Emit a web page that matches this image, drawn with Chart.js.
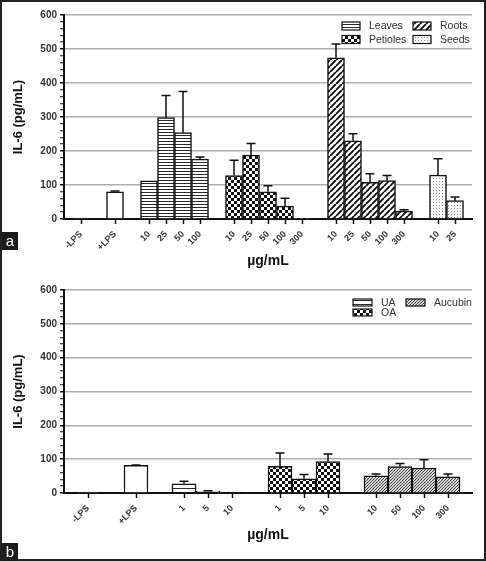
<!DOCTYPE html>
<html>
<head>
<meta charset="utf-8">
<title>IL-6 release</title>
<script src="https://cdn.jsdelivr.net/npm/chart.js@4.4.1/dist/chart.umd.min.js"></script>
<style>
	html, body { margin: 0; padding: 0; background: #fff; }
	#wrap { position: relative; width: 486px; height: 561px; overflow: hidden; }
	.panel { position: absolute; left: 0; width: 486px; }
	#panelA { top: 0; height: 280px; }
	#panelB { top: 280px; height: 281px; }
	.frame { position: absolute; left: 0; top: 0; width: 486px; height: 561px; box-sizing: border-box; border: 2px solid #222; pointer-events: none; }
	.tag { position: absolute; left: 2px; width: 16px; height: 18px; background: #1c1c1c; color: #fff; font: 15px "Liberation Sans", Arial, sans-serif; line-height: 17px; text-align: center; }
</style>
</head>
<body>
<div id="wrap">
	<div class="panel" id="panelA"><canvas id="chartA"></canvas></div>
	<div class="panel" id="panelB"><canvas id="chartB"></canvas></div>
	<div class="frame"></div>
	<div class="tag" style="top:232px">a</div>
	<div class="tag" style="top:543px">b</div>
</div>
<script>
(function() {
	'use strict';

	// ---- data, panel a (IL-6 pg/mL, mean and SD) ----
	var ctrlLabels = ['-LPS', '+LPS'];
	var ctrlA = [3, 80];
	var ctrlSdA = [0, 2];
	var doseLeaves = ['10', '25', '50', '100'];
	var leaves = [112, 298, 254, 176];
	var leavesSd = [0, 65, 121, 6];
	var dosePetioles = ['10', '25', '50', '100', '300'];
	var petioles = [128, 188, 80, 38, 2];
	var petiolesSd = [45, 34, 18, 23, 0];
	var doseRoots = ['10', '25', '50', '100', '300'];
	var roots = [474, 230, 108, 113, 23];
	var rootsSd = [41, 21, 25, 15, 4];
	var doseSeeds = ['10', '25'];
	var seeds = [129, 54];
	var seedsSd = [48, 11];

	// ---- data, panel b ----
	var ctrlB = [3, 82];
	var ctrlSdB = [0, 1];
	var doseUA = ['1', '5', '10'];
	var ua = [27, 6, 3];
	var uaSd = [8, 1, 0];
	var doseOA = ['1', '5', '10'];
	var oa = [79, 42, 93];
	var oaSd = [39, 13, 22];
	var doseAucubin = ['10', '50', '100', '300'];
	var aucubin = [51, 78, 74, 48];
	var aucubinSd = [5, 9, 24, 8];

	var yMajor = [0, 100, 200, 300, 400, 500, 600];

	var FONT = '"Liberation Sans", Arial, sans-serif';
	var INK = '#111';

	/**
	 * Build a repeating fill pattern from a small tile
	 */
	function makePattern(w, h, draw) {
		var tile = document.createElement('canvas');
		tile.width = w;
		tile.height = h;
		var t = tile.getContext('2d');
		t.fillStyle = '#fff';
		t.fillRect(0, 0, w, h);
		draw(t, w, h);
		return t.createPattern(tile, 'repeat');
	}

	function diagonal(color, width) {
		return function(t, w, h) {
			t.strokeStyle = color;
			t.lineWidth = width;
			t.beginPath();
			for (var k = -1; k <= 1; k++) {
				t.moveTo(k * w, h);
				t.lineTo(k * w + w, 0);
			}
			t.stroke();
		};
	}

	var fills = {
		plain: '#fff',
		hlines: makePattern(4, 3, function(t, w) { t.fillStyle = '#2a2a2a'; t.fillRect(0, 0, w, 1); }),
		hlinesWide: makePattern(4, 4, function(t, w) { t.fillStyle = '#2a2a2a'; t.fillRect(0, 0, w, 1); }),
		checker: makePattern(6, 6, function(t) {
			t.fillStyle = '#111';
			t.fillRect(0, 0, 6, 6);
			t.fillStyle = '#fff';
			t.fillRect(0, 0, 3, 3);
			t.fillRect(3, 3, 3, 3);
		}),
		diag: makePattern(6, 6, diagonal('#111', 1.9)),
		dots: makePattern(3, 3, function(t) { t.fillStyle = '#8a8a8a'; t.fillRect(1, 1, 1, 1); }),
		diagDense: makePattern(3, 3, diagonal('#444', 1.1))
	};

	/**
	 * Lay groups side by side with one empty slot between them
	 */
	function buildPanel(groups) {
		var labels = [''];
		groups.forEach(function(g) {
			g.start = labels.length;
			labels = labels.concat(g.labels);
			labels.push('');
		});

		var datasets = groups.map(function(g) {
			var data = labels.map(function() { return null; });
			var sd = data.slice();
			g.values.forEach(function(v, i) {
				data[g.start + i] = v;
				sd[g.start + i] = g.sd[i];
			});
			return {
				label: g.name,
				data: data,
				sd: sd,
				backgroundColor: g.fill,
				borderColor: INK,
				borderWidth: 1.5,
				grouped: false,
				barPercentage: 1,
				categoryPercentage: 1
			};
		});

		return { labels: labels, datasets: datasets };
	}

	// Upward error bars with a cap
	var errorBars = {
		id: 'errorBars',
		afterDatasetsDraw: function(chart) {
			var ctx = chart.ctx;
			var y = chart.scales.y;
			ctx.save();
			ctx.strokeStyle = INK;
			ctx.lineWidth = 1.5;
			chart.data.datasets.forEach(function(ds, di) {
				var meta = chart.getDatasetMeta(di);
				ds.data.forEach(function(v, i) {
					if (v === null || !ds.sd[i]) {
						return;
					}
					var x = meta.data[i].x;
					var y0 = y.getPixelForValue(v);
					var y1 = y.getPixelForValue(v + ds.sd[i]);
					ctx.beginPath();
					ctx.moveTo(x, y0);
					ctx.lineTo(x, y1);
					ctx.moveTo(x - 4.5, y1);
					ctx.lineTo(x + 4.5, y1);
					ctx.stroke();
				});
			});
			ctx.restore();
		}
	};

	// Two-column legend drawn inside the plot area
	var boxLegend = {
		id: 'boxLegend',
		afterDraw: function(chart, args, opts) {
			if (!opts.items) {
				return;
			}
			var ctx = chart.ctx;
			var area = chart.chartArea;
			ctx.save();
			ctx.font = opts.fontSize + 'px ' + FONT;
			ctx.textBaseline = 'middle';
			opts.items.forEach(function(item) {
				var ds = chart.data.datasets.find(function(d) { return d.label === item.label; });
				var bx = area.right + opts.cols[item.col];
				var by = area.top + opts.rows[item.row];
				ctx.fillStyle = ds.backgroundColor;
				ctx.fillRect(bx, by - opts.boxH / 2, opts.boxW, opts.boxH);
				ctx.strokeStyle = INK;
				ctx.lineWidth = 1.2;
				ctx.strokeRect(bx, by - opts.boxH / 2, opts.boxW, opts.boxH);
				ctx.fillStyle = '#333';
				ctx.fillText(item.label, bx + opts.textGap, by + 0.5);
			});
			ctx.restore();
		}
	};

	function makeOptions(labels, xHeight, titleBottom, padTop, legend) {
		return {
			responsive: true,
			maintainAspectRatio: false,
			animation: false,
			layout: { padding: { top: padTop, right: 14, bottom: 0, left: 0 } },
			plugins: {
				legend: { display: false },
				tooltip: { enabled: false },
				boxLegend: legend
			},
			scales: {
				x: {
					offset: false,
					afterFit: function(s) { s.height = xHeight; },
					grid: {
						offset: false,
						drawOnChartArea: false,
						tickLength: 5,
						tickWidth: 1.5,
						tickColor: function(c) { return labels[c.index] ? INK : 'rgba(0,0,0,0)'; }
					},
					border: { color: INK, width: 2 },
					ticks: {
						autoSkip: false,
						minRotation: 45,
						maxRotation: 45,
						padding: 5,
						color: '#333',
						font: { family: FONT, size: 9, weight: 'bold' }
					},
					title: {
						display: true,
						text: 'µg/mL',
						color: INK,
						font: { family: FONT, size: 14, weight: 'bold' },
						padding: { top: 0, bottom: titleBottom }
					}
				},
				y: {
					min: 0,
					max: 600,
					afterFit: function(s) { s.width = 64; },
					grid: {
						color: function(c) {
							var v = c.tick ? c.tick.value : 0;
							return v > 0 && yMajor.indexOf(v) >= 0 ? '#adadad' : 'rgba(0,0,0,0)';
						},
						lineWidth: 1.5,
						tickLength: 4,
						tickColor: INK,
						tickWidth: function(c) { return c.tick && yMajor.indexOf(c.tick.value) >= 0 ? 1.5 : 1; }
					},
					border: { color: INK, width: 2 },
					ticks: {
						stepSize: 20,
						autoSkip: false,
						padding: 3,
						color: '#333',
						font: { family: FONT, size: 10, weight: 'bold' },
						callback: function(v) { return yMajor.indexOf(v) >= 0 ? v : ''; }
					},
					title: {
						display: true,
						text: 'IL-6 (pg/mL)',
						color: INK,
						font: { family: FONT, size: 13, weight: 'bold' },
						padding: { top: 11, bottom: 0 }
					}
				}
			}
		};
	}

	var panelA = buildPanel([
		{ name: ctrlLabels[0], labels: [ctrlLabels[0]], values: [ctrlA[0]], sd: [ctrlSdA[0]], fill: fills.plain },
		{ name: ctrlLabels[1], labels: [ctrlLabels[1]], values: [ctrlA[1]], sd: [ctrlSdA[1]], fill: fills.plain },
		{ name: 'Leaves', labels: doseLeaves, values: leaves, sd: leavesSd, fill: fills.hlines },
		{ name: 'Petioles', labels: dosePetioles, values: petioles, sd: petiolesSd, fill: fills.checker },
		{ name: 'Roots', labels: doseRoots, values: roots, sd: rootsSd, fill: fills.diag },
		{ name: 'Seeds', labels: doseSeeds, values: seeds, sd: seedsSd, fill: fills.dots }
	]);

	var panelB = buildPanel([
		{ name: ctrlLabels[0], labels: [ctrlLabels[0]], values: [ctrlB[0]], sd: [ctrlSdB[0]], fill: fills.plain },
		{ name: ctrlLabels[1], labels: [ctrlLabels[1]], values: [ctrlB[1]], sd: [ctrlSdB[1]], fill: fills.plain },
		{ name: 'UA', labels: doseUA, values: ua, sd: uaSd, fill: fills.hlinesWide },
		{ name: 'OA', labels: doseOA, values: oa, sd: oaSd, fill: fills.checker },
		{ name: 'Aucubin', labels: doseAucubin, values: aucubin, sd: aucubinSd, fill: fills.diagDense }
	]);

	new Chart(document.getElementById('chartA'), {
		type: 'bar',
		data: panelA,
		options: makeOptions(panelA.labels, 61, 10, 15, {
			fontSize: 10.5,
			boxW: 18,
			boxH: 8,
			textGap: 27,
			cols: [-130, -59],
			rows: [11, 24.5],
			items: [
				{ label: 'Leaves', col: 0, row: 0 },
				{ label: 'Petioles', col: 0, row: 1 },
				{ label: 'Roots', col: 1, row: 0 },
				{ label: 'Seeds', col: 1, row: 1 }
			]
		}),
		plugins: [errorBars, boxLegend]
	});

	new Chart(document.getElementById('chartB'), {
		type: 'bar',
		data: panelB,
		options: makeOptions(panelB.labels, 68, 17, 10, {
			fontSize: 10.5,
			boxW: 19,
			boxH: 7,
			textGap: 28,
			cols: [-119, -66],
			rows: [12.5, 22.5],
			items: [
				{ label: 'UA', col: 0, row: 0 },
				{ label: 'OA', col: 0, row: 1 },
				{ label: 'Aucubin', col: 1, row: 0 }
			]
		}),
		plugins: [errorBars, boxLegend]
	});
})();
</script>
</body>
</html>
